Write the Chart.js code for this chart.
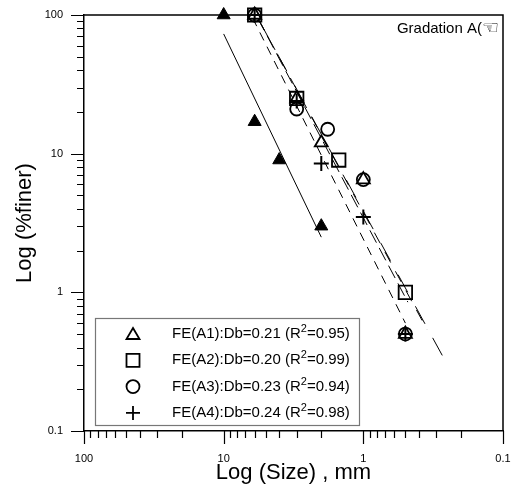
<!DOCTYPE html>
<html>
<head>
<meta charset="utf-8">
<script src="https://cdn.jsdelivr.net/npm/chart.js@4/dist/chart.umd.min.js"></script>
<style>
  html, body { margin: 0; padding: 0; background: #fff; }
  #wrap { width: 512px; height: 490px; }
</style>
</head>
<body>
<div id="wrap"><canvas id="gradChart" width="512" height="490"></canvas></div>
<script>
// Measured points: size (mm) vs percent finer
const sizeFilled = [10, 6, 4, 2];
const finerFilled = [100, 17, 9, 3];

const sizeA1 = [6, 3, 2, 1, 0.5];
const finerA1 = [100, 25, 12, 6.5, 0.5];
const sizeA2 = [6, 3, 1.5, 0.5];
const finerA2 = [100, 25, 9, 1];
const sizeA3 = [6, 3, 1.8, 1, 0.5];
const finerA3 = [100, 21, 15, 6.5, 0.5];
const sizeA4 = [6, 3, 2, 1, 0.5];
const finerA4 = [100, 24, 8.5, 3.5, 0.5];

// Fitted lines, end points
const fitFilledSize = [10, 2];
const fitFilledFiner = [73, 2.5];
const fitA1Size = [5.5, 0.25];
const fitA1Finer = [89, 0.3];
const fitA2Size = [5.7, 0.48];
const fitA2Finer = [95, 0.85];
const fitA3Size = [5.6, 0.35];
const fitA3Finer = [92, 0.54];
const fitA4Size = [6.2, 0.5];
const fitA4Finer = [95, 0.6];

const legendLabels = [
    ['FE(A1):Db=0.21 (R', '2', '=0.95)'],
    ['FE(A2):Db=0.20 (R', '2', '=0.99)'],
    ['FE(A3):Db=0.23 (R', '2', '=0.94)'],
    ['FE(A4):Db=0.24 (R', '2', '=0.98)']
];
const legendSymbols = ['triangle', 'rect', 'circle', 'cross'];

// Tick values (both axes run 0.1 .. 100)
const majorTicks = [0.1, 1, 10, 100];
const tickValues = [
    0.1, 0.2, 0.3, 0.4, 0.5, 0.6, 0.7, 0.8, 0.9,
    1, 2, 3, 4, 5, 6, 7, 8, 9,
    10, 20, 30, 40, 50, 60, 70, 80, 90,
    100
];

const FONT = "'Liberation Sans', Arial, sans-serif";

function toPoints(xs, ys) {
    return xs.map((x, i) => ({ x: x, y: ys[i] }));
}

function drawSymbol(ctx, style, x, y) {
    ctx.save();
    ctx.strokeStyle = '#000';
    ctx.lineWidth = 1.8;
    ctx.beginPath();
    if (style === 'triangle') {
        ctx.moveTo(x, y - 6);
        ctx.lineTo(x + 6.5, y + 5);
        ctx.lineTo(x - 6.5, y + 5);
        ctx.closePath();
    } else if (style === 'rect') {
        ctx.rect(x - 6.5, y - 6.5, 13, 13);
    } else if (style === 'circle') {
        ctx.arc(x, y, 6.5, 0, Math.PI * 2);
    } else {
        ctx.moveTo(x - 7, y);
        ctx.lineTo(x + 7, y);
        ctx.moveTo(x, y - 7);
        ctx.lineTo(x, y + 7);
    }
    ctx.stroke();
    ctx.restore();
}

// frame, tick marks, legend box and caption
const decorPlugin = {
    id: 'decor',
    afterDraw(chart) {
        const ctx = chart.ctx;
        const area = chart.chartArea;
        const xs = chart.scales.x;
        const ys = chart.scales.y;

        ctx.save();
        ctx.strokeStyle = '#000';
        ctx.lineWidth = 1.5;
        ctx.beginPath();
        ctx.moveTo(area.left, area.top);
        ctx.lineTo(area.right, area.top);
        ctx.lineTo(area.right, area.bottom);
        ctx.stroke();

        ctx.lineWidth = 1.2;
        ctx.beginPath();
        tickValues.forEach(v => {
            const len = majorTicks.includes(v) ? 13 : 7;
            const px = Math.round(xs.getPixelForValue(v)) + 0.5;
            ctx.moveTo(px, area.bottom);
            ctx.lineTo(px, area.bottom + len);
            const py = Math.round(ys.getPixelForValue(v)) + 0.5;
            ctx.moveTo(area.left, py);
            ctx.lineTo(area.left - len, py);
        });
        ctx.stroke();

        // legend
        const bx = 95, by = 318, bw = 264, bh = 107;
        ctx.fillStyle = '#fff';
        ctx.fillRect(bx, by, bw, bh);
        ctx.strokeStyle = '#777';
        ctx.lineWidth = 1.2;
        ctx.strokeRect(bx + 0.5, by + 0.5, bw, bh);

        ctx.fillStyle = '#000';
        ctx.textBaseline = 'middle';
        ctx.textAlign = 'left';
        legendLabels.forEach((parts, i) => {
            const cy = 334 + i * 26.3;
            drawSymbol(ctx, legendSymbols[i], 133, cy);
            let tx = 172;
            ctx.font = '15px ' + FONT;
            ctx.fillText(parts[0], tx, cy);
            tx += ctx.measureText(parts[0]).width;
            ctx.font = '11px ' + FONT;
            ctx.fillText(parts[1], tx, cy - 5);
            tx += ctx.measureText(parts[1]).width;
            ctx.font = '15px ' + FONT;
            ctx.fillText(parts[2], tx, cy);
        });

        // caption: text plus a hand glyph from DejaVu
        ctx.textAlign = 'right';
        ctx.font = "19px 'DejaVu Sans'";
        const hand = '\u261C';
        const hw = ctx.measureText(hand).width;
        ctx.fillText(hand, 499, 29);
        ctx.font = '15px ' + FONT;
        ctx.fillText('Gradation A(', 499 - hw, 29);
        ctx.restore();
    }
};

const ctx = document.getElementById('gradChart').getContext('2d');

new Chart(ctx, {
    type: 'scatter',
    data: {
        datasets: [
            { type: 'line', data: toPoints(fitFilledSize, fitFilledFiner), borderColor: '#000', borderWidth: 1, pointRadius: 0, order: 2 },
            { type: 'line', data: toPoints(fitA1Size, fitA1Finer), borderColor: '#000', borderWidth: 1, borderDash: [20, 16], pointRadius: 0, order: 2 },
            { type: 'line', data: toPoints(fitA2Size, fitA2Finer), borderColor: '#000', borderWidth: 1, borderDash: [14, 6], pointRadius: 0, order: 2 },
            { type: 'line', data: toPoints(fitA3Size, fitA3Finer), borderColor: '#000', borderWidth: 1, borderDash: [12, 10], pointRadius: 0, order: 2 },
            { type: 'line', data: toPoints(fitA4Size, fitA4Finer), borderColor: '#000', borderWidth: 1, borderDash: [9, 7], pointRadius: 0, order: 2 },
            {
                label: 'filled', data: toPoints(sizeFilled, finerFilled), clip: false,
                pointStyle: 'triangle', pointRadius: 7.5, backgroundColor: '#000', borderColor: '#000', borderWidth: 1, order: 1
            },
            {
                label: 'A1', data: toPoints(sizeA1, finerA1), clip: false,
                pointStyle: 'triangle', pointRadius: 7.5, backgroundColor: 'rgba(0,0,0,0)', borderColor: '#000', borderWidth: 1.8, order: 1
            },
            {
                label: 'A2', data: toPoints(sizeA2, finerA2), clip: false,
                pointStyle: 'rect', pointRadius: 9.5, backgroundColor: 'rgba(0,0,0,0)', borderColor: '#000', borderWidth: 1.8, order: 1
            },
            {
                label: 'A3', data: toPoints(sizeA3, finerA3), clip: false,
                pointStyle: 'circle', pointRadius: 6.5, backgroundColor: 'rgba(0,0,0,0)', borderColor: '#000', borderWidth: 1.8, order: 1
            },
            {
                label: 'A4', data: toPoints(sizeA4, finerA4), clip: false,
                pointStyle: 'cross', pointRadius: 7.5, backgroundColor: 'rgba(0,0,0,0)', borderColor: '#000', borderWidth: 2, order: 1
            }
        ]
    },
    options: {
        responsive: false,
        animation: false,
        devicePixelRatio: 1,
        layout: { autoPadding: false, padding: { left: 0, right: 9, top: 15, bottom: 0 } },
        plugins: {
            legend: { display: false },
            tooltip: { enabled: false }
        },
        scales: {
            x: {
                type: 'logarithmic',
                reverse: true,
                min: 0.1,
                max: 100,
                afterFit: scale => {
                    scale.height = 59;
                    scale.paddingLeft = 0;
                    scale.paddingRight = 0;
                },
                afterBuildTicks: scale => { scale.ticks = tickValues.map(v => ({ value: v })); },
                grid: { display: false, drawTicks: false },
                border: { display: true, color: '#000', width: 1.5 },
                ticks: {
                    autoSkip: false,
                    maxRotation: 0,
                    padding: 21,
                    color: '#000',
                    font: { family: FONT, size: 11 },
                    callback: v => majorTicks.includes(v) ? String(v) : ''
                },
                title: {
                    display: true,
                    text: 'Log (Size) , mm',
                    color: '#000',
                    font: { family: FONT, size: 22, lineHeight: 1.2 },
                    padding: { top: 0, bottom: 4 }
                }
            },
            y: {
                type: 'logarithmic',
                min: 0.1,
                max: 100,
                afterFit: scale => {
                    scale.width = 84;
                    scale.paddingTop = 0;
                    scale.paddingBottom = 0;
                },
                afterBuildTicks: scale => { scale.ticks = tickValues.map(v => ({ value: v })); },
                grid: { display: false, drawTicks: false },
                border: { display: true, color: '#000', width: 1.5 },
                ticks: {
                    autoSkip: false,
                    padding: 21,
                    color: '#000',
                    font: { family: FONT, size: 11 },
                    callback: v => majorTicks.includes(v) ? String(v) : ''
                },
                title: {
                    display: true,
                    text: 'Log (%finer)',
                    color: '#000',
                    font: { family: FONT, size: 22, lineHeight: 1.2 },
                    padding: { top: 12, bottom: 0 }
                }
            }
        }
    },
    plugins: [decorPlugin]
});
</script>
</body>
</html>
